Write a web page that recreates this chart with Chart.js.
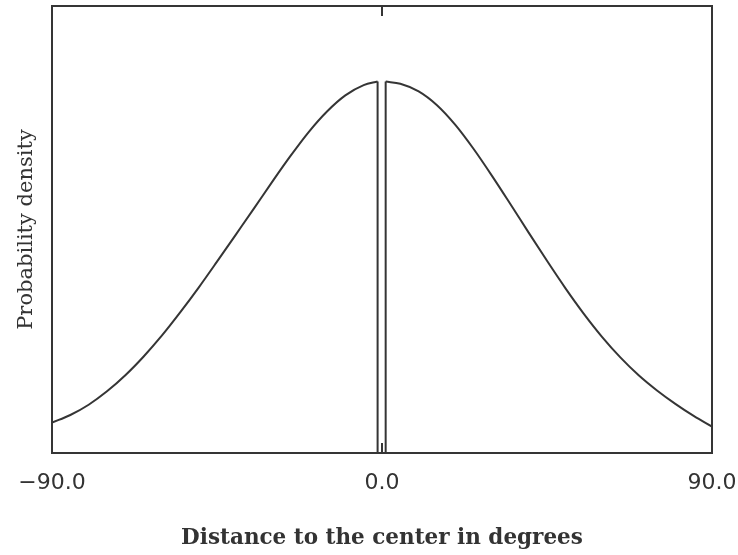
<!DOCTYPE html>
<html>
<head>
<meta charset="utf-8">
<script src="https://cdn.jsdelivr.net/npm/chart.js@4"></script>
<style>
  html, body { margin: 0; padding: 0; background: #fff; }
  #wrap { width: 738px; height: 555px; }
</style>
</head>
<body>
<div id="wrap"><canvas id="density"></canvas></div>
<script>
// values (density scaled 0..1 of the plot height)
const leftAngles  = [-90, -85, -80, -75, -70, -65, -60, -55, -50, -45, -40, -35, -30, -25, -20, -15, -10, -5, -1.2];
const leftDensity = [0.068, 0.085, 0.108, 0.138, 0.174, 0.216, 0.263, 0.315, 0.370, 0.428, 0.487, 0.546, 0.606, 0.664, 0.718, 0.764, 0.800, 0.823, 0.831];

const rightAngles  = [1.0, 5, 10, 15, 20, 25, 30, 35, 40, 45, 50, 55, 60, 65, 70, 75, 80, 85, 90];
const rightDensity = [0.831, 0.826, 0.809, 0.778, 0.734, 0.680, 0.620, 0.557, 0.493, 0.430, 0.369, 0.312, 0.260, 0.214, 0.174, 0.140, 0.110, 0.083, 0.059];

// the narrow notch at the centre
const notchAngles  = [-1.2, -1.2, 1.0, 1.0];
const notchDensity = [0.831, 0, 0, 0.831];

const tickValues = [-90, 0, 90];

const lineColor = '#353535';
const toPoints = (xs, ys) => xs.map((x, i) => ({ x: x, y: ys[i] }));

// box round the plot and the short inward ticks
const frame = {
  id: 'frame',
  afterDatasetsDraw(chart) {
    const { ctx, chartArea: a, scales } = chart;
    ctx.save();
    ctx.strokeStyle = lineColor;
    ctx.lineWidth = 2;
    ctx.strokeRect(a.left, a.top, a.right - a.left, a.bottom - a.top);
    ctx.beginPath();
    tickValues.forEach(v => {
      const px = scales.x.getPixelForValue(v);
      ctx.moveTo(px, a.top); ctx.lineTo(px, a.top + 10);
      ctx.moveTo(px, a.bottom); ctx.lineTo(px, a.bottom - 10);
    });
    ctx.stroke();
    ctx.restore();
  }
};

new Chart(document.getElementById('density'), {
  type: 'scatter',
  data: {
    datasets: [
      {
        data: toPoints(leftAngles, leftDensity),
        showLine: true,
        cubicInterpolationMode: 'monotone',
        borderColor: lineColor,
        borderWidth: 2,
        pointRadius: 0
      },
      {
        data: toPoints(rightAngles, rightDensity),
        showLine: true,
        cubicInterpolationMode: 'monotone',
        borderColor: lineColor,
        borderWidth: 2,
        pointRadius: 0
      },
      {
        data: toPoints(notchAngles, notchDensity),
        showLine: true,
        tension: 0,
        borderColor: lineColor,
        borderWidth: 2,
        pointRadius: 0
      }
    ]
  },
  options: {
    responsive: true,
    maintainAspectRatio: false,
    animation: false,
    layout: { padding: { left: 0, right: 26, top: 6, bottom: 0 } },
    plugins: {
      legend: { display: false },
      tooltip: { enabled: false }
    },
    scales: {
      x: {
        type: 'linear',
        min: -90,
        max: 90,
        afterBuildTicks: scale => { scale.ticks = tickValues.map(v => ({ value: v })); },
        afterFit: scale => {
          scale.height = 102;
          scale.paddingLeft = 0;
          scale.paddingRight = 0;
        },
        grid: { display: false, drawTicks: false },
        border: { display: false },
        ticks: {
          padding: 17,
          color: '#333',
          font: { family: 'DejaVu Sans', size: 22 },
          maxRotation: 0,
          callback: v => v.toFixed(1).replace('-', '\u2212')
        },
        title: {
          display: true,
          text: 'Distance to the center in degrees',
          color: '#333',
          font: { family: 'DejaVu Serif', size: 21.5, weight: 'bold' },
          padding: { top: 0, bottom: 4 }
        }
      },
      y: {
        min: 0,
        max: 1,
        afterFit: scale => { scale.width = 52; },
        grid: { display: false, drawTicks: false },
        border: { display: false },
        ticks: { display: false },
        title: {
          display: true,
          text: 'Probability density',
          color: '#333',
          font: { family: 'DejaVu Serif', size: 21 },
          padding: { top: 14, bottom: 0 }
        }
      }
    }
  },
  plugins: [frame]
});
</script>
</body>
</html>
